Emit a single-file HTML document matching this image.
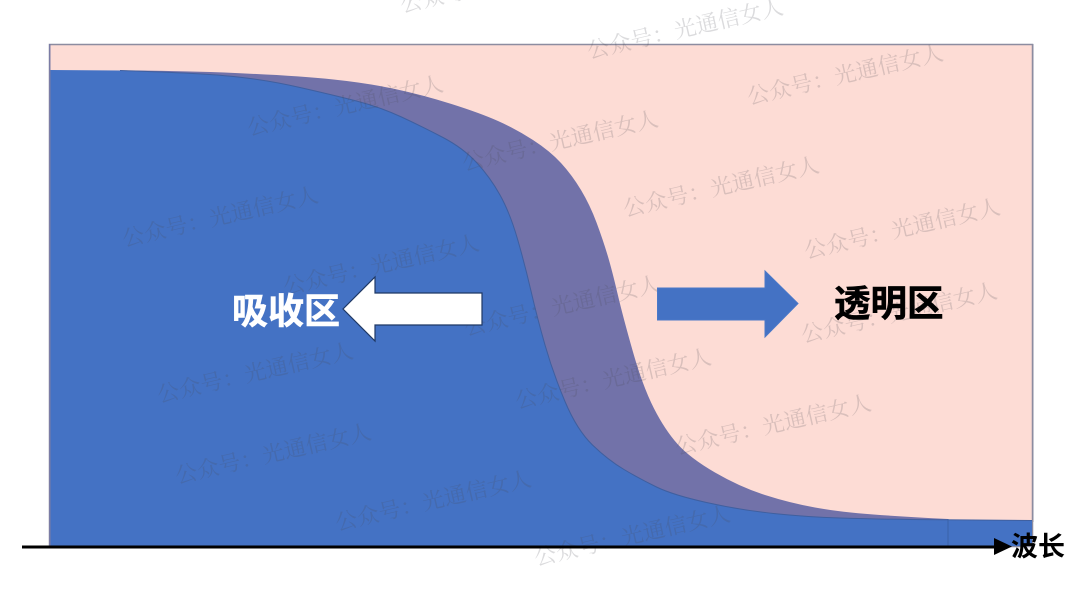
<!DOCTYPE html>
<html><head><meta charset="utf-8"><style>
html,body{margin:0;padding:0;background:#fff}
#c{position:relative;width:1080px;height:607px;overflow:hidden;background:#fff}
svg{position:absolute;left:0;top:0}
text{font-family:"Liberation Sans","Noto Sans CJK SC",sans-serif}
.w{font-family:"Liberation Sans","Noto Serif CJK SC","Noto Sans CJK SC",serif;font-size:22px;fill:#4a4a55;fill-opacity:.2;text-anchor:middle;letter-spacing:.3px}
</style></head><body><div id="c">
<svg width="1080" height="607" viewBox="0 0 1080 607">
<rect x="49.500" y="44.500" width="983" height="502" fill="#fddcd5" stroke="#8c8ca0" stroke-width="1.500"/>
<path d="M120 70.500 Q200 71 250 73.750 Q300 76 333.500 79.500 Q367 83 395 89 Q423 95 451.500 104 Q480 113 498 121 Q516 129 533 140 Q550 151 561 163 Q572 175 581 190 Q590 205 596.500 222.500 Q603 240 607.500 255 Q612 270 617.500 293.500 Q623 317 633 352 Q643 387 654 408.500 Q665 430 677.500 444 Q690 458 715 472.500 Q740 487 765 495 Q790 503 815 507.500 Q840 512 873.500 514.500 Q907 517 948 519 L948 546 L140 546 Z" fill="#7272a9"/>
<path d="M50 70 L120 70.500 Q200 73 233.500 76.500 Q267 80 300 87.500 Q333 95 356.500 101 Q380 107 401.500 117 Q423 127 443 137.500 Q463 148 476.500 162.500 Q490 177 500 195 Q510 213 517.500 239 Q525 265 531 291 Q537 317 545 345 Q553 373 565 401.500 Q577 430 592.500 445 Q608 460 624 469.500 Q640 479 656.500 487 Q673 495 706.500 502.500 Q740 510 773.500 513.500 Q807 517 840 518 Q873 519 910 519.500 Q948 520 1032 520.500 L1032 546 L50 546 Z" fill="#4472c4"/>
<path d="M120 70.500 Q200 73 233.500 76.500 Q267 80 300 87.500 Q333 95 356.500 101 Q380 107 401.500 117 Q423 127 443 137.500 Q463 148 476.500 162.500 Q490 177 500 195 Q510 213 517.500 239 Q525 265 531 291 Q537 317 545 345 Q553 373 565 401.500 Q577 430 592.500 445 Q608 460 624 469.500 Q640 479 656.500 487 Q673 495 706.500 502.500 Q740 510 773.500 513.500 Q807 517 840 518 Q873 519 910 519.500 Q948 520 1032 520.500" fill="none" stroke="#3f5f9f" stroke-width="1"/>
<line x1="948" y1="519" x2="948" y2="546" stroke="#3a62a8" stroke-width="1"/>
<rect x="49" y="44" width="1.500" height="503" fill="#7b7ca5"/>
<rect x="1032" y="44" width="1.500" height="478" fill="#8c8ca0"/>

<text class="w" transform="translate(347,113) rotate(-13)">公众号：光通信女人</text>
<text class="w" transform="translate(222,224) rotate(-13)">公众号：光通信女人</text>
<text class="w" transform="translate(383,272) rotate(-13)">公众号：光通信女人</text>
<text class="w" transform="translate(257,380) rotate(-13)">公众号：光通信女人</text>
<text class="w" transform="translate(275,461) rotate(-13)">公众号：光通信女人</text>
<text class="w" transform="translate(435,508) rotate(-13)">公众号：光通信女人</text>
<text class="w" transform="translate(634,543) rotate(-13)">公众号：光通信女人</text>
<text class="w" transform="translate(562,148) rotate(-13)">公众号：光通信女人</text>
<text class="w" transform="translate(687,36) rotate(-13)">公众号：光通信女人</text>
<text class="w" transform="translate(847,82) rotate(-13)">公众号：光通信女人</text>
<text class="w" transform="translate(723,194) rotate(-13)">公众号：光通信女人</text>
<text class="w" transform="translate(904,236) rotate(-13)">公众号：光通信女人</text>
<text class="w" transform="translate(564,313) rotate(-13)">公众号：光通信女人</text>
<text class="w" transform="translate(901,320) rotate(-13)">公众号：光通信女人</text>
<text class="w" transform="translate(615,386) rotate(-13)">公众号：光通信女人</text>
<text class="w" transform="translate(775,432) rotate(-13)">公众号：光通信女人</text>
<text class="w" transform="translate(500,-10) rotate(-13)">公众号：光通信女人</text>

<path d="M482 293 L482 325 L375 325 L375 341 L343 309 L375 277 L375 293 Z" fill="#fff" stroke="#1f3864" stroke-width="1.200"/>
<path d="M657.500 288 L765 288 L765 271 L798 303.500 L765 337 L765 320 L657.500 320 Z" fill="#4472c4" stroke="#4a78c8" stroke-width="1"/>

<text x="232" y="323.500" font-size="36" font-weight="700" fill="#fff" stroke="#fff" stroke-width=".6">吸收区</text>
<text x="834" y="316" font-size="36.500" font-weight="700" fill="#000" stroke="#000" stroke-width=".6">透明区</text>

<rect x="22" y="545.500" width="975" height="3" fill="#000"/>
<path d="M994 538 L1012 546.500 L994 555 Z" fill="#000"/>
<text x="1011" y="556" font-size="27" font-weight="700" fill="#000">波长</text>
</svg>
</div></body></html>
